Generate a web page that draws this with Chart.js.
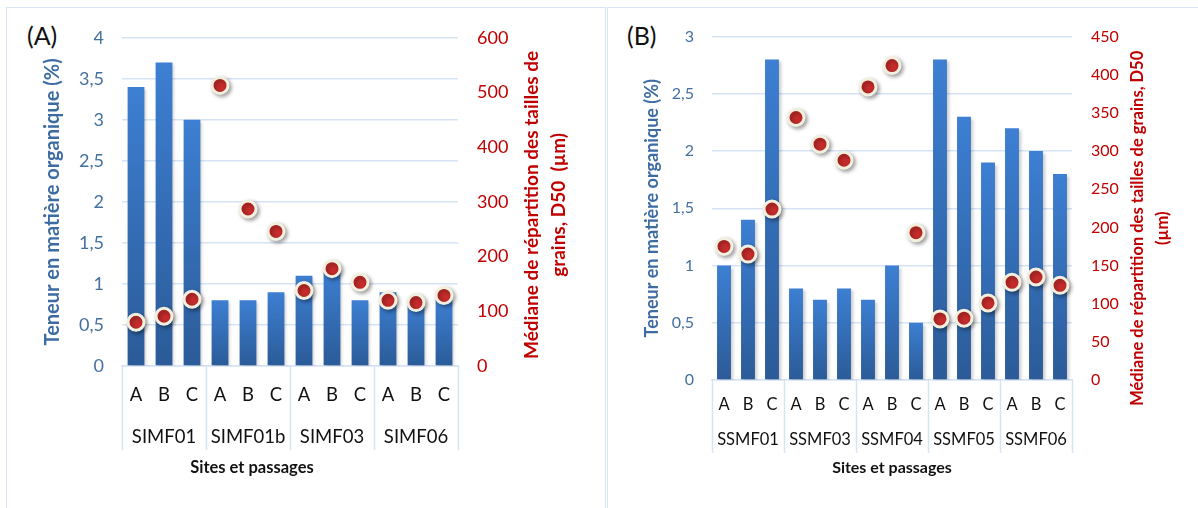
<!DOCTYPE html>
<html lang="fr">
<head>
<meta charset="utf-8">
<title>Teneur en matière organique et D50</title>
<script src="https://cdn.jsdelivr.net/npm/chart.js@4.4.1/dist/chart.umd.min.js"></script>
<style>
  html, body { margin: 0; padding: 0; background: #fff; }
  body { width: 1198px; height: 508px; position: relative; overflow: hidden; font-family: Lato, "Open Sans", sans-serif; }
  .panel { position: absolute; top: 7px; height: 520px; border: 1.5px solid #d9e5f4; border-bottom: none; box-sizing: border-box; }
  #panelA { left: 6px; width: 600px; }
  #panelB { left: 607px; width: 600px; border-right: none; }
  .tag { position: absolute; top: 20px; font-size: 25px; color: #111; }
  canvas { position: absolute; top: 8px; }
</style>
</head>
<body>
<div class="panel" id="panelA"></div>
<div class="panel" id="panelB"></div>
<div class="tag" style="left:27px">(A)</div>
<div class="tag" style="left:627px">(B)</div>
<canvas id="chartA" width="596" height="500" style="left:8px"></canvas>
<canvas id="chartB" width="589" height="500" style="left:609px"></canvas>
<script>
// passages per site, same for both panels
const passages = ['A', 'B', 'C'];

// (A) sites SIMF
const sitesA = ['SIMF01', 'SIMF01b', 'SIMF03', 'SIMF06'];
const teneurA = [3.4, 3.7, 3.0, 0.8, 0.8, 0.9, 1.1, 1.2, 0.8, 0.9, 0.8, 0.8];
const d50A = [80, 91, 122, 513, 287, 246, 138, 178, 153, 120, 116, 129];

// (B) sites SSMF
const sitesB = ['SSMF01', 'SSMF03', 'SSMF04', 'SSMF05', 'SSMF06'];
const teneurB = [1.0, 1.4, 2.8, 0.8, 0.7, 0.8, 0.7, 1.0, 0.5, 2.8, 2.3, 1.9, 2.2, 2.0, 1.8];
const d50B = [175, 165, 224, 344, 309, 288, 384, 412, 193, 80, 81, 101, 128, 135, 124];

const FONT = 'Lato, "Open Sans", sans-serif';
const BLUE_TXT = '#44709f';
const RED_TXT = '#c00000';
const GRID = '#d5e3f5';

const comma = v => String(v).replace('.', ',');

// soft drop shadow under bars and dots
const shadows = {
  id: 'shadows',
  beforeDatasetDraw(chart, args) {
    const ctx = chart.ctx;
    ctx.save();
    const dots = args.meta.type === 'line';
    ctx.shadowColor = dots ? 'rgba(0,0,0,0.35)' : 'rgba(0,0,0,0.22)';
    ctx.shadowBlur = dots ? 4 : 3;
    ctx.shadowOffsetX = 2;
    ctx.shadowOffsetY = 2;
  },
  afterDatasetDraw(chart) { chart.ctx.restore(); }
};

// vertical separators between site groups under the axis
const groupLines = {
  id: 'groupLines',
  afterDraw(chart, args, opts) {
    const x = chart.scales.x, area = chart.chartArea, ctx = chart.ctx;
    const n = chart.data.labels.length;
    ctx.save();
    ctx.strokeStyle = GRID;
    ctx.lineWidth = 1.5;
    for (let i = 0; i <= n; i += passages.length) {
      const px = Math.round(x.getPixelForValue(i - 0.5)) + 0.5;
      ctx.beginPath();
      ctx.moveTo(px, area.bottom);
      ctx.lineTo(px, area.bottom + opts.depth);
      ctx.stroke();
    }
    ctx.restore();
  }
};

// right axis title (read bottom to top) and the x axis title
const extraTitles = {
  id: 'extraTitles',
  afterDraw(chart, args, opts) {
    const s = chart.scales.y1, area = chart.chartArea, ctx = chart.ctx;
    const cy = (area.top + area.bottom) / 2 + opts.dy;
    ctx.save();
    ctx.textAlign = 'center';
    ctx.textBaseline = 'middle';
    ctx.fillStyle = RED_TXT;
    ctx.font = `bold ${opts.size}px ${FONT}`;
    opts.lines.forEach((t, i) => {
      ctx.save();
      ctx.translate(s.left + opts.offsets[i], cy);
      ctx.rotate(-Math.PI / 2);
      ctx.fillText(t, 0, 0);
      ctx.restore();
    });
    ctx.fillStyle = '#111';
    ctx.font = `bold ${opts.xSize}px ${FONT}`;
    ctx.fillText('Sites et passages', (area.left + area.right) / 2 + opts.xDx, chart.height - 40);
    ctx.restore();
  }
};

const barFill = (context) => {
  const chart = context.chart;
  const area = chart.chartArea;
  if (!area) return '#3570b8';
  const top = chart.scales.y.getPixelForValue(context.raw);
  const g = chart.ctx.createLinearGradient(0, top, 0, area.bottom);
  g.addColorStop(0, '#3d7fd2');
  g.addColorStop(1, '#2b5b98');
  return g;
};

const makeChart = (id, s) => {
  const labels = s.sites.flatMap(() => passages);
  return new Chart(document.getElementById(id), {
    data: {
      labels,
      datasets: [
        {
          type: 'line', yAxisID: 'y1', data: s.d50, showLine: false,
          pointRadius: 8, pointHoverRadius: 8, pointBorderWidth: 3,
          pointBackgroundColor: '#c52b2b', pointBorderColor: '#f3efdf'
        },
        {
          type: 'bar', yAxisID: 'y', data: s.teneur,
          backgroundColor: barFill, categoryPercentage: 1, barPercentage: s.barPct
        }
      ]
    },
    options: {
      responsive: false, animation: false,
      layout: { padding: { top: s.top, left: 0, right: 0, bottom: 0 } },
      plugins: {
        legend: { display: false }, tooltip: { enabled: false },
        groupLines: { depth: s.sepDepth },
        extraTitles: s.titles
      },
      scales: {
        x: {
          type: 'category', position: 'bottom', offset: true,
          grid: { display: false, drawTicks: false },
          border: { display: true, color: GRID, width: 1.5 },
          ticks: { color: '#111', font: { family: FONT, size: s.catSize }, padding: s.abcPad, autoSkip: false, maxRotation: 0 },
          afterFit: sc => { sc.height = s.abcH; }
        },
        x2: {
          type: 'category', position: 'bottom', offset: true, labels: s.sites,
          grid: { display: false, drawTicks: false }, border: { display: false },
          ticks: { color: '#111', font: { family: FONT, size: s.catSize }, padding: s.sitePad, autoSkip: false, maxRotation: 0 },
          afterFit: sc => { sc.height = s.siteH; }
        },
        y: {
          position: 'left', min: 0, max: s.maxL,
          grid: { color: GRID, lineWidth: 1.5, drawTicks: false },
          border: { display: false },
          ticks: { stepSize: s.stepL, color: BLUE_TXT, font: { family: FONT, size: s.tickSize }, padding: 18, callback: comma },
          title: { display: true, text: 'Teneur en matière organique (%)', color: '#3d6ca3', font: { family: FONT, size: s.leftSize, weight: 'bold' }, padding: { top: s.leftPad, bottom: 0 } },
          afterFit: sc => { sc.width = s.leftW; }
        },
        y1: {
          position: 'right', min: 0, max: s.maxR,
          grid: { display: false, drawTicks: false },
          border: { display: false },
          ticks: { stepSize: s.stepR, color: RED_TXT, font: { family: FONT, size: s.tickSize }, padding: 19 },
          afterFit: sc => { sc.width = s.rightW; }
        }
      }
    },
    plugins: [shadows, groupLines, extraTitles]
  });
};

makeChart('chartA', {
  sites: sitesA, teneur: teneurA, d50: d50A,
  maxL: 4, stepL: 0.5, maxR: 600, stepR: 100,
  barPct: 0.6, top: 28.7, leftW: 114, rightW: 146, leftPad: 33,
  tickSize: 18, catSize: 18.5, leftSize: 20,
  abcH: 50, abcPad: 18, siteH: 92, sitePad: 10, sepDepth: 84,
  titles: { lines: ['Médiane de répartition des tailles de', 'grains, D50  (µm)'], offsets: [74, 101], dy: 3, size: 19, xSize: 16.5, xDx: -38 }
});

makeChart('chartB', {
  sites: sitesB, teneur: teneurB, d50: d50B,
  maxL: 3, stepL: 0.5, maxR: 450, stepR: 50,
  barPct: 0.58, top: 28, leftW: 103, rightW: 126, leftPad: 32,
  tickSize: 16, catSize: 16.5, leftSize: 18,
  abcH: 44, abcPad: 15, siteH: 84, sitePad: 6, sepDepth: 73,
  titles: { lines: ['Médiane de répartition des tailles de grains, D50', '(µm)'], offsets: [66, 91], dy: 20, size: 16.5, xSize: 16, xDx: 0 }
});
</script>
</body>
</html>
